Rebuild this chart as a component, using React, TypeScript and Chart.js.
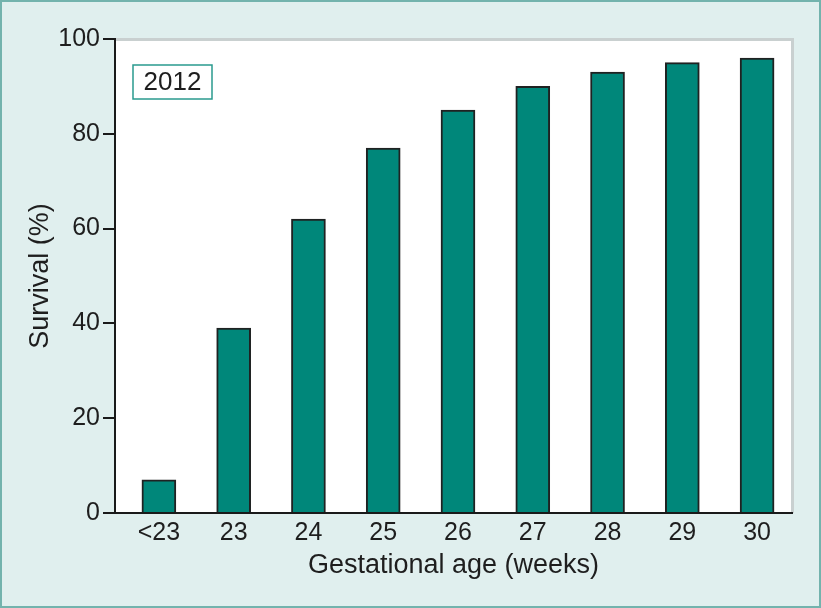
import React, { useEffect, useRef } from "react";
import { Chart, registerables } from "chart.js";

Chart.register(...registerables);

const categories = ["<23", "23", "24", "25", "26", "27", "28", "29", "30"];
const survival = [7, 39, 62, 77, 85, 90, 93, 95, 96];
const yTicks = [0, 20, 40, 60, 80, 100];
const legendLabel = "2012";
const xTitle = "Gestational age (weeks)";
const yTitle = "Survival (%)";

const FONT = "'Liberation Sans', Arial, Helvetica, sans-serif";

const framePlugin = {
  id: "frame",
  beforeDraw(chart: any) {
    const { ctx, width, height, chartArea } = chart;
    ctx.save();
    ctx.fillStyle = "#e0efee";
    ctx.fillRect(0, 0, width, height);
    ctx.strokeStyle = "#73b3ad";
    ctx.lineWidth = 2;
    ctx.strokeRect(1, 1, width - 2, height - 2);
    ctx.fillStyle = "#ffffff";
    ctx.fillRect(chartArea.left, chartArea.top, chartArea.right - chartArea.left, chartArea.bottom - chartArea.top);
    ctx.strokeStyle = "#c9d0d0";
    ctx.lineWidth = 3;
    ctx.beginPath();
    ctx.moveTo(chartArea.left, chartArea.top + 0.5);
    ctx.lineTo(chartArea.right + 0.5, chartArea.top + 0.5);
    ctx.lineTo(chartArea.right + 0.5, chartArea.bottom);
    ctx.stroke();
    ctx.restore();
  },
  afterDraw(chart: any) {
    const { ctx, chartArea } = chart;
    const x = chartArea.left + 18;
    const y = chartArea.top + 26;
    const w = 79;
    const h = 34;
    ctx.save();
    ctx.fillStyle = "#ffffff";
    ctx.fillRect(x, y, w, h);
    ctx.strokeStyle = "#2a9a8e";
    ctx.lineWidth = 1.5;
    ctx.strokeRect(x, y, w, h);
    ctx.fillStyle = "#1e1e1e";
    ctx.font = `26px ${FONT}`;
    ctx.textAlign = "center";
    ctx.textBaseline = "middle";
    ctx.fillText(legendLabel, x + w / 2, y + h / 2 + 1);
    ctx.restore();
  },
};

export default function App() {
  const ref = useRef<HTMLCanvasElement | null>(null);

  useEffect(() => {
    if (!ref.current) return;
    const data = survival.map((v, i) => ({ x: i, y: v }));
    const chart = new Chart(ref.current, {
      type: "bar",
      data: {
        datasets: [
          {
            data: data as any,
            backgroundColor: "#00877a",
            borderColor: "#1f2222",
            borderWidth: 2,
            barThickness: 34,
            borderSkipped: "bottom",
          },
        ],
      },
      options: {
        animation: false,
        responsive: false,
        maintainAspectRatio: false,
        events: [],
        layout: { padding: { top: 39, right: 29, left: 0, bottom: 0 } },
        plugins: {
          legend: { display: false },
          tooltip: { enabled: false },
        },
        scales: {
          x: {
            type: "linear",
            offset: false,
            min: -0.587,
            max: 8.467,
            afterBuildTicks(scale: any) {
              scale.ticks = categories.map((_, i) => ({ value: i }));
            },
            afterFit(scale: any) {
              scale.height = 608 - 513;
            },
            grid: { display: false, drawTicks: false },
            border: { display: true, color: "#1a1a1a", width: 2 },
            ticks: {
              autoSkip: false,
              maxRotation: 0,
              padding: 5,
              color: "#1e1e1e",
              font: { size: 25, family: FONT },
              callback: (v: any) => categories[Math.round(Number(v))] ?? "",
            },
            title: {
              display: true,
              text: xTitle,
              color: "#1e1e1e",
              font: { size: 27, family: FONT },
              padding: { top: 0, bottom: 26 },
            },
          },
          y: {
            min: 0,
            max: 100,
            afterBuildTicks(scale: any) {
              scale.ticks = yTicks.map((v) => ({ value: v }));
            },
            afterFit(scale: any) {
              scale.width = 115;
            },
            grid: {
              display: true,
              drawOnChartArea: false,
              drawTicks: true,
              tickLength: 12,
              color: "#1a1a1a",
              lineWidth: 2,
            },
            border: { display: true, color: "#1a1a1a", width: 2 },
            ticks: {
              padding: 3,
              color: "#1e1e1e",
              font: { size: 25, family: FONT },
            },
            title: {
              display: true,
              text: yTitle,
              color: "#1e1e1e",
              font: { size: 27, family: FONT },
              padding: { top: 24, bottom: 0 },
            },
          },
        },
      },
      plugins: [framePlugin],
    });
    return () => chart.destroy();
  }, []);

  return (
    <div style={{ position: "fixed", left: 0, top: 0, width: 821, height: 608 }}>
      <canvas ref={ref} width={821} height={608} style={{ display: "block" }} />
    </div>
  );
}
